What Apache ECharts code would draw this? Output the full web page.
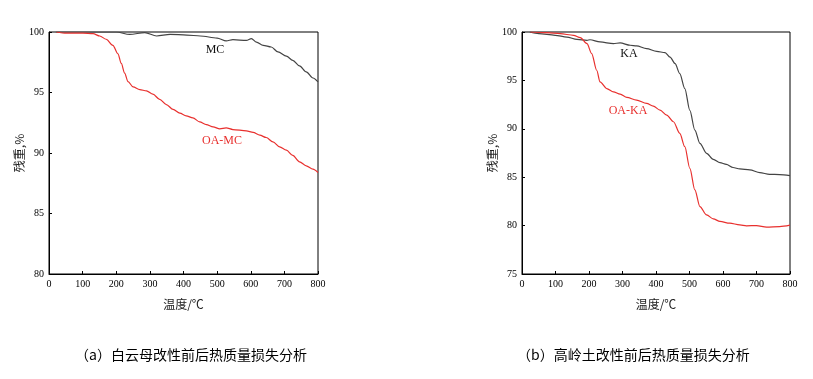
<!DOCTYPE html>
<html><head><meta charset="utf-8">
<script src="https://cdn.jsdelivr.net/npm/echarts@6/dist/echarts.min.js"></script>
<style>html,body{margin:0;padding:0;background:#fff}#c{width:813px;height:379px}</style>
</head><body><div id="c"></div>
<script>
// Left chart (a): 白云母
const mcData = [[20,100],[200,100],[240,99.8],[285,99.95],[320,99.67],[360,99.8],[410,99.75],[450,99.67],[500,99.5],[527,99.26],[547,99.37],[587,99.3],[602,99.45],[617,99.17],[637,98.9],[661,98.76],[681,98.35],[706,98.0],[725,97.66],[745,97.2],[765,96.7],[785,96.2],[800,95.87]];
const oaMcData = [[22,100],[52,99.9],[101,99.9],[131,99.86],[151,99.67],[170,99.4],[190,98.9],[205,98.2],[215,97.4],[225,96.6],[235,95.9],[250,95.46],[270,95.24],[290,95.13],[309,94.86],[329,94.44],[349,94.0],[369,93.6],[389,93.3],[408,93.07],[428,92.9],[448,92.57],[468,92.35],[488,92.16],[508,92.0],[527,92.08],[547,91.94],[587,91.83],[607,91.7],[627,91.47],[646,91.28],[666,90.92],[686,90.5],[706,90.23],[725,89.8],[745,89.27],[765,88.94],[785,88.67],[800,88.39]];
// Right chart (b): 高岭土
const kaData = [[23,100],[50,99.83],[99,99.66],[134,99.48],[164,99.24],[194,99.14],[203,99.2],[233,98.97],[273,98.8],[293,98.87],[323,98.63],[342,98.56],[372,98.28],[402,98.0],[427,97.87],[442,97.4],[457,96.74],[471,95.7],[486,94.16],[501,91.9],[516,89.87],[531,88.5],[551,87.47],[571,86.85],[591,86.5],[610,86.33],[630,86.0],[650,85.85],[680,85.75],[710,85.47],[739,85.3],[769,85.27],[800,85.16]];
const oaKaData = [[25,100],[74,99.93],[114,99.83],[154,99.66],[174,99.42],[194,98.8],[208,97.77],[223,96.05],[233,94.85],[253,94.16],[273,93.82],[293,93.58],[313,93.24],[342,92.96],[372,92.62],[392,92.34],[412,91.93],[432,91.41],[452,90.73],[471,89.53],[486,88.15],[501,85.92],[516,83.69],[531,81.97],[551,81.11],[571,80.7],[591,80.43],[620,80.25],[650,80.08],[670,79.98],[700,80.0],[730,79.84],[769,79.9],[800,80.05]];
const xName = '温度/℃';
const yName = '残重,%';
const captions = ['（a）白云母改性前后热质量损失分析','（b）高岭土改性前后热质量损失分析'];
const labelsA = [['MC',215,50,'#111'],['OA-MC',222,141,'#e8302e']];
const labelsB = [['KA',629,54,'#111'],['OA-KA',628,111,'#e8302e']];

const black = '#444444', red = '#e8302e';
const chart = echarts.init(document.getElementById('c'), null, {renderer:'canvas'});
const serif = 'Liberation Serif';
function xAxis(i){return {gridIndex:i,type:'value',min:0,max:800,interval:100,
  axisLine:{show:true,lineStyle:{color:'#000',width:1}},axisTick:{show:true,inside:true,length:3,lineStyle:{color:'#000'}},
  splitLine:{show:false},axisLabel:{color:'#000',fontFamily:serif,fontSize:10,margin:5},
  name:xName,nameLocation:'middle',nameGap:24,nameTextStyle:{color:'#222',fontFamily:'Noto Sans CJK SC',fontSize:12}};}
function yAxis(i,min){return {gridIndex:i,type:'value',min:min,max:100,interval:5,
  axisLine:{show:true,lineStyle:{color:'#000',width:1}},axisTick:{show:true,inside:true,length:3,lineStyle:{color:'#000'}},
  splitLine:{show:false},axisLabel:{color:'#000',fontFamily:serif,fontSize:10,margin:5},
  name:yName,nameLocation:'middle',nameGap:i===0?24:23,nameRotate:90,nameTextStyle:{color:'#222',fontFamily:'Noto Sans CJK SC',fontSize:12}};}
function line(i,data,color){return {type:'line',xAxisIndex:i,yAxisIndex:i,data:data,showSymbol:false,symbol:'none',smooth:0.3,smoothMonotone:'x',
  lineStyle:{color:color,width:1.2},animation:false};}
const texts = [];
labelsA.concat(labelsB).forEach(l=>texts.push({type:'text',x:l[1],y:l[2],style:{text:l[0],fill:l[3],font:'12px "Liberation Serif"',textAlign:'center',textVerticalAlign:'middle'}}));
texts.push({type:'text',x:75,y:355,style:{text:captions[0],fill:'#000',font:'14px "Noto Sans CJK SC"',textVerticalAlign:'middle'}});
texts.push({type:'text',x:517,y:355,style:{text:captions[1],fill:'#000',font:'14px "Noto Sans CJK SC"',textVerticalAlign:'middle'}});
chart.setOption({
  animation:false,
  grid:[{left:49,top:32,width:269,height:242,show:true,borderColor:'#000',borderWidth:1,backgroundColor:'transparent'},
        {left:522,top:32,width:268,height:242,show:true,borderColor:'#000',borderWidth:1,backgroundColor:'transparent'}],
  xAxis:[xAxis(0),xAxis(1)],
  yAxis:[yAxis(0,80),yAxis(1,75)],
  series:[line(0,mcData,black),line(0,oaMcData,red),line(1,kaData,black),line(1,oaKaData,red)],
  graphic:texts
});
</script></body></html>
